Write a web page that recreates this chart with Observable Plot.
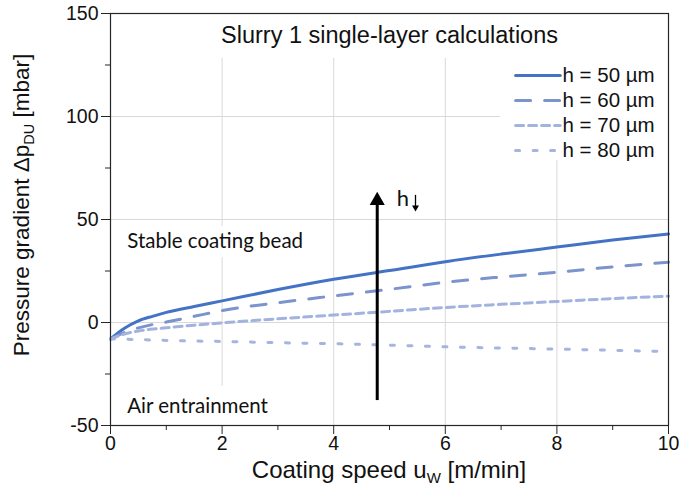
<!DOCTYPE html>
<html><head><meta charset="utf-8">
<script src="https://cdn.jsdelivr.net/npm/d3@7"></script>
<script src="https://cdn.jsdelivr.net/npm/@observablehq/plot@0.6"></script>
<style>body{margin:0;background:#fff;} #chart svg{display:block;}</style>
</head><body><div id="chart"></div>
<script>
// ---- data ----
const speed = [0, 0.25, 0.5, 0.75, 1, 1.5, 2, 3, 4, 5, 6, 7, 8, 9, 10];
const h50 = [-8, -2.8, 0.8, 3, 4.9, 7.8, 10.5, 16, 21, 25.2, 29.5, 33.2, 36.6, 40, 43];
const h60 = [-8, -4.8, -2.6, -1, 0.2, 3, 5.8, 9.6, 12.9, 16.1, 19.5, 22.1, 24.4, 27, 29.3];
const h70 = [-8, -5.6, -4.1, -3.2, -2.6, -1.3, -0.2, 1.8, 3.6, 5.4, 7.3, 8.8, 10.2, 11.6, 12.8];
const h80 = [-8, -8.1, -8.3, -8.5, -8.7, -9, -9.2, -9.8, -10.3, -11, -11.8, -12.4, -12.9, -13.5, -14.1];
const seriesNames = ["h = 50 µm", "h = 60 µm", "h = 70 µm", "h = 80 µm"];
const seriesValues = [h50, h60, h70, h80];
const xTicks = [0, 2, 4, 6, 8, 10];
const xMinorTicks = [1, 3, 5, 7, 9];
const yTicks = [-50, 0, 50, 100, 150];
const yMinorTicks = [-25, 25, 75, 125];
const xGrid = [2, 4, 6, 8, 10];
const yGrid = [0, 50, 100];
const titleText = "Slurry 1 single-layer calculations";
const regionLabels = ["Stable coating bead", "Air entrainment"];
const arrowLabel = "h";

// ---- styles / layout ----
const sans = "'Liberation Sans', Arial, sans-serif";
const styles = [
  {stroke: "#4472C4", dash: null},
  {stroke: "#7B94CC", dash: "15,14"},
  {stroke: "#A2B3DF", dash: "8,5"},
  {stroke: "#A6B4E0", dash: "4,13.5"}
];
const legendRowsY = [119.9, 107.8, 95.6, 83.5];
const legendX = [7.26, 8.06], legendTextX = 8.1;

const rows = [];
seriesNames.forEach((name, i) => speed.forEach((s, j) => rows.push({series: name, x: s, y: seriesValues[i][j]})));
const legendRows = seriesNames.map((name, i) => ({name, y: legendRowsY[i]}));

const whiteBoxes = [
  {x1: 1.5, x2: 8.6, y1: 128.2, y2: 150},      // title
  {x1: 6.99, x2: 10, y1: 78.6, y2: 128.2},     // legend
  {x1: 0.18, x2: 3.6, y1: 31.5, y2: 46.5},     // stable
  {x1: 0.18, x2: 3.3, y1: -50, y2: -31}        // air
];
const frameColor = "#262626";
const gridColor = "#d9d9d9";

const marks = [
  Plot.gridX(xGrid, {stroke: gridColor, strokeOpacity: 1}),
  Plot.gridY(yGrid, {stroke: gridColor, strokeOpacity: 1}),
  Plot.rect(whiteBoxes, {x1: "x1", x2: "x2", y1: "y1", y2: "y2", fill: "white"}),
];
seriesNames.forEach((name, i) => {
  marks.push(Plot.line(rows.filter(d => d.series === name), {
    x: "x", y: "y", stroke: styles[i].stroke, strokeWidth: 3,
    strokeDasharray: styles[i].dash, curve: "monotone-x"
  }));
  marks.push(Plot.line([{x: legendX[0], y: legendRows[i].y}, {x: legendX[1], y: legendRows[i].y}], {
    x: "x", y: "y", stroke: styles[i].stroke, strokeWidth: 3, strokeDasharray: styles[i].dash
  }));
});
marks.push(
  Plot.text(legendRows, {x: legendTextX, y: "y", text: "name", textAnchor: "start", fontSize: 20.5, fontFamily: sans, fill: "#111"}),
  Plot.frame({stroke: frameColor, strokeWidth: 1.2}),
  Plot.axisX({ticks: xTicks, tickSize: 9, tickPadding: 2, fontSize: 19.5, fontFamily: sans, tickFormat: d => String(d), label: null, stroke: frameColor, color: "#111"}),
  Plot.axisX({ticks: xMinorTicks, tickSize: 5, text: null, label: null, stroke: frameColor}),
  Plot.axisY({ticks: yTicks, tickSize: 9, tickPadding: 3, fontSize: 19.5, fontFamily: sans, tickFormat: d => String(d), label: null, stroke: frameColor, color: "#111"}),
  Plot.axisY({ticks: yMinorTicks, tickSize: 5, text: null, label: null, stroke: frameColor}),
  Plot.text([titleText], {x: 5, y: 139.2, text: d => d, fontSize: 23.5, fontFamily: sans, fill: "#111"}),
  Plot.text([regionLabels[0]], {x: 0.3, y: 39.2, text: d => d, textAnchor: "start", fontSize: 20.5, fontFamily: "Lato", fill: "#111"}),
  Plot.text([regionLabels[1]], {x: 0.3, y: -40.7, text: d => d, textAnchor: "start", fontSize: 20.5, fontFamily: "Lato", fill: "#111"}),
  // big arrow
  Plot.ruleX([{x: 4.78, y1: -37.9, y2: 60}], {x: "x", y1: "y1", y2: "y2", stroke: "black", strokeWidth: 3}),
  Plot.dot([{x: 4.78, y: 59.2}], {x: "x", y: "y", symbol: "triangle", r: 5.6, fill: "black", stroke: "none"}),
  // h with small down arrow
  Plot.text([arrowLabel], {x: 5.242, y: 59.9, text: d => d, fontSize: 22, fontFamily: "Lato", fill: "#111"}),
  Plot.ruleX([{x: 5.466, y1: 56, y2: 61.7}], {x: "x", y1: "y1", y2: "y2", stroke: "black", strokeWidth: 1.3}),
  Plot.dot([{x: 5.466, y: 55.8}], {x: "x", y: "y", symbol: "triangle", r: 2.6, rotate: 180, fill: "black", stroke: "none"})
);

const chart = Plot.plot({
  width: 679, height: 504,
  marginLeft: 110, marginRight: 11, marginTop: 13, marginBottom: 79,
  style: {fontFamily: sans, background: "white", overflow: "visible"},
  x: {domain: [0, 10]},
  y: {domain: [-50, 150]},
  marks
});

// axis titles with subscripts
const svg = d3.select(chart);
const xl = svg.append("text").attr("x", 389).attr("y", 478).attr("text-anchor", "middle")
  .attr("font-size", 24).attr("fill", "#111").attr("font-family", sans);
xl.append("tspan").text("Coating speed u");
xl.append("tspan").text("W").attr("font-size", 15).attr("dy", 5);
xl.append("tspan").text(" [m/min]").attr("dy", -5);

const yl = svg.append("text").attr("transform", "translate(29,205) rotate(-90)").attr("text-anchor", "middle")
  .attr("font-size", 22.5).attr("fill", "#111").attr("font-family", sans);
yl.append("tspan").text("Pressure gradient Δp");
yl.append("tspan").text("DU").attr("font-size", 14.5).attr("dy", 5);
yl.append("tspan").text(" [mbar]").attr("dy", -5);

document.getElementById("chart").appendChild(chart);
</script>
</body></html>
